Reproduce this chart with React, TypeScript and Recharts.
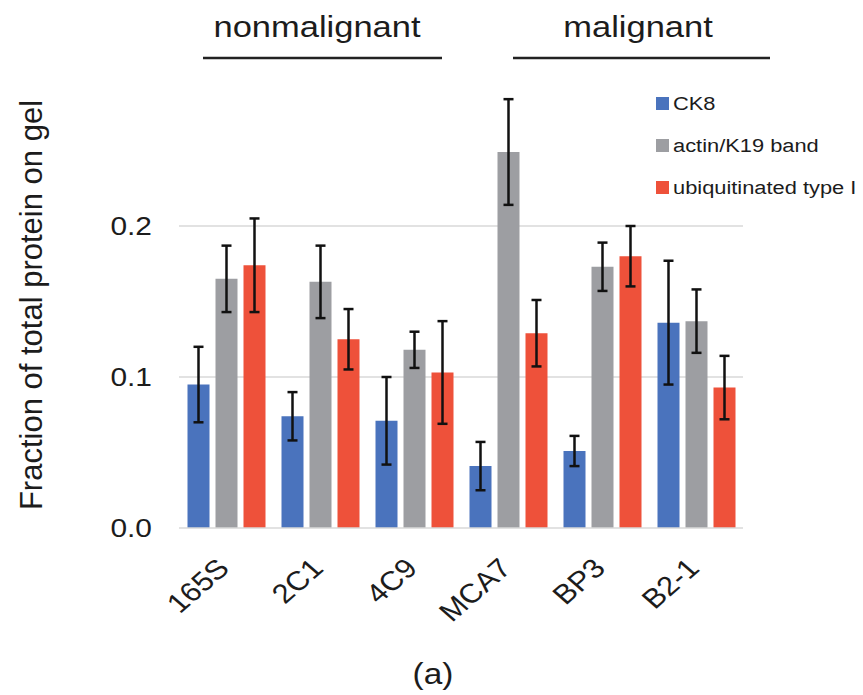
import { BarChart, Bar, XAxis, YAxis, CartesianGrid, ErrorBar } from "recharts";

const cellLines = ["165S", "2C1", "4C9", "MCA7", "BP3", "B2-1"];
const ck8 = [0.095, 0.074, 0.071, 0.041, 0.051, 0.136];
const ck8Err = [0.025, 0.016, 0.029, 0.016, 0.01, 0.041];
const actin = [0.165, 0.163, 0.118, 0.249, 0.173, 0.137];
const actinErr = [0.022, 0.024, 0.012, 0.035, 0.016, 0.021];
const ubiq = [0.174, 0.125, 0.103, 0.129, 0.18, 0.093];
const ubiqErr = [0.031, 0.02, 0.034, 0.022, 0.02, 0.021];
const yTicks = [0, 0.1, 0.2];
const gridValues = [0.1, 0.2];

const seriesNames = ["CK8", "actin/K19 band", "ubiquitinated type I"];
const colors = ["#4a73bd", "#9d9ea2", "#ee513a"];

const FONT = "'Liberation Sans', Arial, sans-serif";
const INK = "#1c1c1c";
// the source figure is a little wider than tall, so text gets stretched sideways
const SX = 1.15;

const data = cellLines.map((name, i) => ({
  name,
  ck8: ck8[i],
  ck8Err: ck8Err[i],
  actin: actin[i],
  actinErr: actinErr[i],
  ubiq: ubiq[i],
  ubiqErr: ubiqErr[i],
}));

function WideText({ x, y, size, anchor = "start", rotate = 0, children }: any) {
  return (
    <text
      transform={`translate(${x} ${y}) scale(${SX} 1) rotate(${rotate})`}
      fontSize={size}
      fontFamily={FONT}
      fill={INK}
      textAnchor={anchor}
    >
      {children}
    </text>
  );
}

function XTick({ x, y, payload }: any) {
  return (
    <WideText x={x + 5} y={y} size={27} anchor="end" rotate={-45}>
      {payload.value}
    </WideText>
  );
}

function YTick({ x, y, payload }: any) {
  return (
    <WideText x={x} y={y + 9} size={26} anchor="end">
      {payload.value.toFixed(1)}
    </WideText>
  );
}

export default function App() {
  return (
    <div style={{ position: "absolute", left: 0, top: 0, width: 863, height: 695, background: "#fff" }}>
      <BarChart
        width={863}
        height={695}
        data={data}
        margin={{ top: 75, right: 120, bottom: 67, left: 0 }}
        barCategoryGap={8.5}
        barGap={6}
      >
        <CartesianGrid vertical={false} horizontalValues={gridValues} stroke="#d9d9d9" strokeWidth={1.5} />
        <XAxis
          dataKey="name"
          height={100}
          tickSize={0}
          tickMargin={42}
          tickLine={false}
          axisLine={{ stroke: "#d9d9d9", strokeWidth: 1.5 }}
          tick={<XTick />}
          interval={0}
        />
        <YAxis
          width={179}
          domain={[0, 0.3]}
          ticks={yTicks}
          tickSize={0}
          tickMargin={27}
          tickLine={false}
          axisLine={false}
          tick={<YTick />}
        />
        <Bar dataKey="ck8" fill={colors[0]} isAnimationActive={false}>
          <ErrorBar dataKey="ck8Err" width={5} strokeWidth={2.5} stroke="#111" />
        </Bar>
        <Bar dataKey="actin" fill={colors[1]} isAnimationActive={false}>
          <ErrorBar dataKey="actinErr" width={5} strokeWidth={2.5} stroke="#111" />
        </Bar>
        <Bar dataKey="ubiq" fill={colors[2]} isAnimationActive={false}>
          <ErrorBar dataKey="ubiqErr" width={5} strokeWidth={2.5} stroke="#111" />
        </Bar>
      </BarChart>

      {/* group headings, axis title, caption and legend on top of the chart */}
      <svg
        width={863}
        height={695}
        style={{ position: "absolute", left: 0, top: 0, pointerEvents: "none" }}
      >
        <WideText x={317} y={37} size={30} anchor="middle">nonmalignant</WideText>
        <line x1={203} y1={58} x2={442} y2={58} stroke="#222" strokeWidth={2.6} />
        <WideText x={638} y={37} size={30} anchor="middle">malignant</WideText>
        <line x1={513} y1={58} x2={770} y2={58} stroke="#222" strokeWidth={2.6} />

        <text x={42} y={305} fontSize={31} fontFamily={FONT} fill={INK} textAnchor="middle" transform="rotate(-90, 42, 305)">
          Fraction of total protein on gel
        </text>

        <WideText x={433} y={684} size={29} anchor="middle">(a)</WideText>

        {seriesNames.map((s, i) => (
          <g key={s}>
            <rect x={656} y={97 + i * 42} width={13} height={13} fill={colors[i]} />
            <WideText x={673} y={110 + i * 42} size={19}>{s}</WideText>
          </g>
        ))}
      </svg>
    </div>
  );
}
